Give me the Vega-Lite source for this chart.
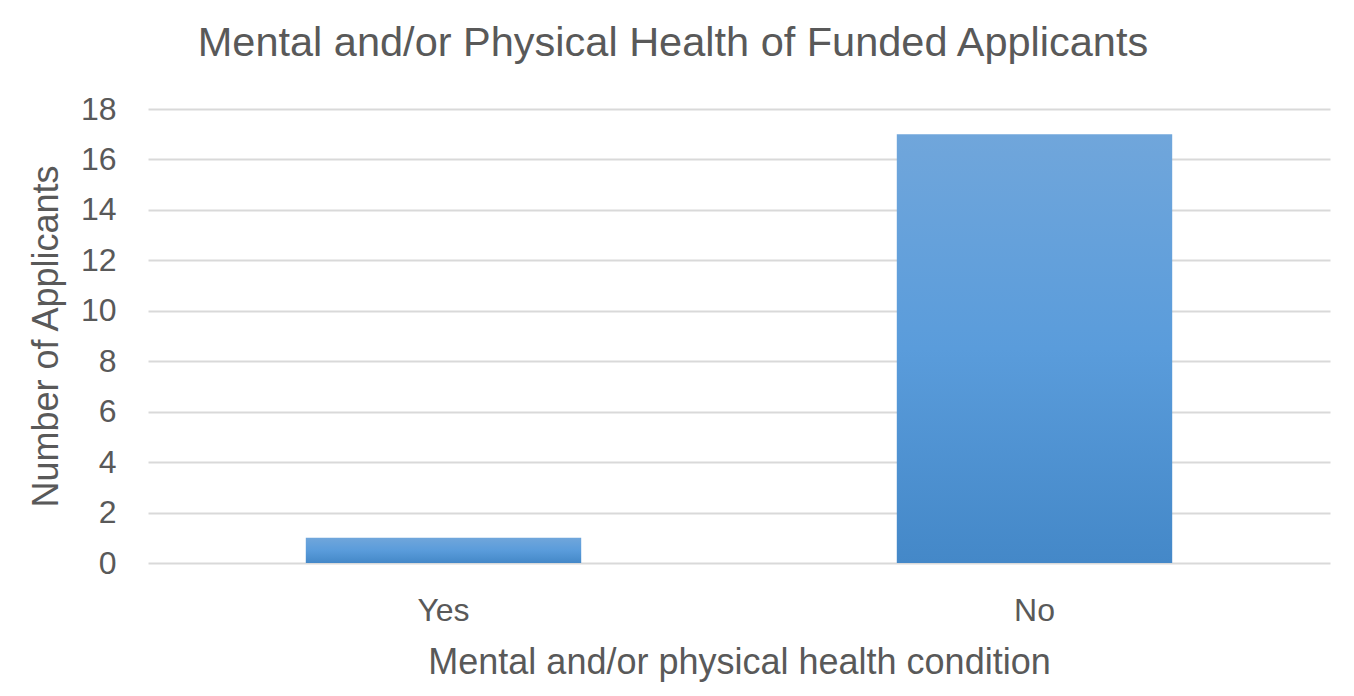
{
  "$schema": "https://vega.github.io/schema/vega-lite/v6.json",
  "description": "Bar chart of funded applicants by mental and/or physical health condition.",
  "autosize": {"type": "none"},
  "width": 1182,
  "height": 454,
  "padding": {"left": 148, "top": 109, "right": 24, "bottom": 133},
  "background": "white",
  "title": {
    "text": "Mental and/or Physical Health of Funded Applicants",
    "font": "Liberation Sans",
    "fontSize": 41.5,
    "fontWeight": "normal",
    "color": "#595959",
    "anchor": "middle",
    "dx": -66,
    "offset": 29
  },
  "data": {
    "values": [
      {"Condition": "Yes", "Applicants": 1},
      {"Condition": "No", "Applicants": 17}
    ]
  },
  "mark": {
    "type": "bar",
    "color": {
      "gradient": "linear",
      "x1": 0, "y1": 0, "x2": 0, "y2": 1,
      "stops": [
        {"offset": 0, "color": "#70a6db"},
        {"offset": 0.5, "color": "#5a9cdb"},
        {"offset": 1, "color": "#4488c8"}
      ]
    }
  },
  "encoding": {
    "x": {
      "field": "Condition",
      "type": "nominal",
      "sort": ["Yes", "No"],
      "scale": {"paddingInner": 0.534, "paddingOuter": 0.267},
      "title": "Mental and/or physical health condition",
      "axis": {
        "labelAngle": 0,
        "labelFont": "Liberation Sans",
        "labelFontSize": 32,
        "labelColor": "#595959",
        "labelPadding": 32,
        "titleFont": "Liberation Sans",
        "titleFontSize": 36,
        "titleFontWeight": "normal",
        "titleColor": "#595959",
        "titlePadding": 19,
        "domain": false,
        "ticks": false
      }
    },
    "y": {
      "field": "Applicants",
      "type": "quantitative",
      "scale": {"domain": [0, 18]},
      "title": "Number of Applicants",
      "axis": {
        "values": [0, 2, 4, 6, 8, 10, 12, 14, 16, 18],
        "labelFont": "Liberation Sans",
        "labelFontSize": 32,
        "labelColor": "#595959",
        "labelPadding": 32,
        "titleFont": "Liberation Sans",
        "titleFontSize": 36,
        "titleFontWeight": "normal",
        "titleColor": "#595959",
        "titlePadding": 15,
        "domain": false,
        "ticks": false,
        "grid": true,
        "gridColor": "#d9d9d9",
        "gridWidth": 2
      }
    }
  },
  "config": {"view": {"stroke": null}}
}
